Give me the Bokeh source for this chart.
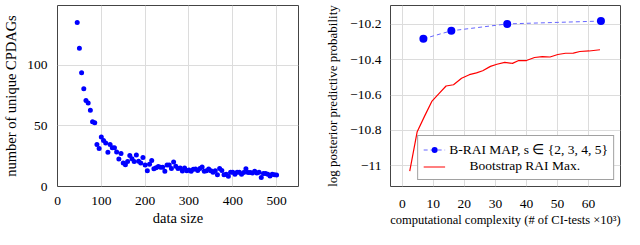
from bokeh.plotting import figure
from bokeh.layouts import row
from bokeh.models import Range1d, FixedTicker, CustomJSTickFormatter, Legend, LegendItem
from bokeh.embed import file_html
from bokeh.resources import INLINE

# ---------------- data ----------------
data_size = list(range(45, 505, 5))
unique_cpdags = [135, 113.9, 93.6, 80.5, 70.8, 68.7, 62.8, 53.4, 52.5, 34.6,
                 31.3, 40.7, 37.9, 35.8, 28.2, 34.6, 31.8, 31.8, 28.5, 22.6,
                 27.1, 19.3, 17.9, 20.5, 25.6, 22.8, 20.5, 25.9, 20.7, 19.3,
                 23.8, 17.6, 12.9, 18.4, 21.4, 14.6, 15.5, 16.5, 15.8, 15.8,
                 12.5, 17.6, 17.6, 14.8, 20.2, 16.7, 14.8, 15.3, 12.7, 15.3,
                 12.9, 13.6, 12.5, 14.1, 14.4, 13.2, 14.8, 16.0, 12.5, 12.9,
                 14.4, 12.9, 11.8, 12.9, 9.6, 14.8, 13.2, 9.6, 10.1, 8.5,
                 11.8, 11.8, 10.1, 11.8, 11.8, 10.1, 11.5, 14.6, 11.5, 11.5,
                 11.1, 12.5, 11.1, 11.8, 7.5, 10.8, 10.6, 10.1, 8.7, 10.1,
                 9.6, 9.4]

brai_x = [6.8, 15.8, 33.8, 64.0]
brai_y = [-10.282, -10.237, -10.198, -10.182]

boot_x = [2.4, 4.8, 7.3, 9.5, 11.8, 14.1, 16.5, 19.1, 21.6, 23.9, 25.9, 28.4,
          30.5, 33.0, 35.5, 37.5, 40.0, 42.6, 45.1, 47.6, 50.1, 52.6, 55.1,
          57.2, 60.2, 63.7]
boot_y = [-11.03, -10.807, -10.715, -10.636, -10.592, -10.549, -10.542,
          -10.505, -10.485, -10.475, -10.463, -10.438, -10.426, -10.415,
          -10.421, -10.405, -10.405, -10.388, -10.383, -10.385, -10.371,
          -10.364, -10.363, -10.354, -10.351, -10.344]

left_xticks = [0, 100, 200, 300, 400, 500]
left_yticks = [0, 50, 100]
right_xticks = [0, 10, 20, 30, 40, 50, 60]
right_yticks = [-11, -10.8, -10.6, -10.4, -10.2]

FONT = "Liberation Serif"
TICK_FS = "13.5px"
LABEL_FS = "14.5px"
FRAME = "#444444"
GRID = "#dcdcdc"


def style(p):
    p.outline_line_color = FRAME
    p.outline_line_width = 1
    p.outline_line_alpha = 1
    for ax in p.axis:
        ax.axis_line_color = None
        ax.major_tick_line_color = None
        ax.minor_tick_line_color = None
        ax.major_label_text_font = FONT
        ax.major_label_text_font_size = TICK_FS
        ax.major_label_text_color = "black"
        ax.axis_label_text_font = FONT
        ax.axis_label_text_font_size = LABEL_FS
        ax.axis_label_text_font_style = "normal"
        ax.axis_label_text_color = "black"
    for g in p.grid:
        g.grid_line_color = GRID
        g.grid_line_width = 1
    p.background_fill_color = "white"
    p.border_fill_color = "white"


# ---------------- left plot ----------------
p1 = figure(width=322, height=229, output_backend="svg", toolbar_location=None,
            x_range=Range1d(0, 550), y_range=Range1d(0, 149),
            min_border_left=44, min_border_right=24, min_border_top=0,
            min_border_bottom=34)
p1.scatter(data_size, unique_cpdags, size=5, color="#0000ff", line_color=None)
p1.xaxis.ticker = FixedTicker(ticks=left_xticks)
p1.yaxis.ticker = FixedTicker(ticks=left_yticks)
p1.xaxis.axis_label = "data size"
p1.yaxis.axis_label = "number of unique CPDAGs"
style(p1)
p1.xaxis.major_label_standoff = 4
p1.xaxis.axis_label_standoff = 2
p1.yaxis.major_label_standoff = 4
p1.yaxis.axis_label_standoff = 5

# ---------------- right plot ----------------
p2 = figure(width=302, height=229, output_backend="svg", toolbar_location=None,
            x_range=Range1d(-3.8, 70.3), y_range=Range1d(-11.117, -10.094),
            min_border_left=58, min_border_right=4, min_border_top=5,
            min_border_bottom=37)
r_brai_line = p2.line(brai_x, brai_y, line_color="#6666ff", line_width=1,
                      line_dash="4 3")
r_brai_pts = p2.scatter(brai_x, brai_y, size=8, color="#0000ff", line_color=None)
r_boot = p2.line(boot_x, boot_y, line_color="#ff0000", line_width=1.2)
p2.xaxis.ticker = FixedTicker(ticks=right_xticks)
p2.yaxis.ticker = FixedTicker(ticks=right_yticks)
p2.yaxis.formatter = CustomJSTickFormatter(code="""
    var r = Math.round(tick);
    var s = (Math.abs(tick - r) < 1e-9) ? r.toString() : tick.toFixed(1);
    return s.replace('-', '\\u2212');
""")
p2.xaxis.axis_label = "computational complexity (# of CI-tests \u00d710\u00b3)"
p2.yaxis.axis_label = "log posterior predictive probability"
style(p2)
p2.xaxis.axis_label_text_font_size = "12.5px"
p2.yaxis.axis_label_text_font_size = "13px"
p2.xaxis.major_label_standoff = 7
p2.xaxis.axis_label_standoff = 2
p2.yaxis.major_label_standoff = 3
p2.yaxis.axis_label_standoff = 7

legend = Legend(items=[
    LegendItem(label="B-RAI MAP, s \u2208 {2, 3, 4, 5}", renderers=[r_brai_line, r_brai_pts]),
    LegendItem(label="\u00a0\u00a0\u00a0\u00a0\u00a0\u00a0Bootstrap RAI Max.", renderers=[r_boot]),
], location="bottom_right")
legend.label_text_font = FONT
legend.label_text_font_size = TICK_FS
legend.label_text_color = "black"
legend.glyph_width = 22
legend.glyph_height = 15
legend.label_height = 15
legend.label_standoff = 4
legend.spacing = 0
legend.padding = 5
legend.margin = 6
legend.border_line_color = FRAME
legend.border_line_width = 1
legend.background_fill_color = "white"
legend.background_fill_alpha = 1
p2.add_layout(legend)

layout = row(p1, p2)
open("out.html", "w").write(file_html(layout, INLINE))
